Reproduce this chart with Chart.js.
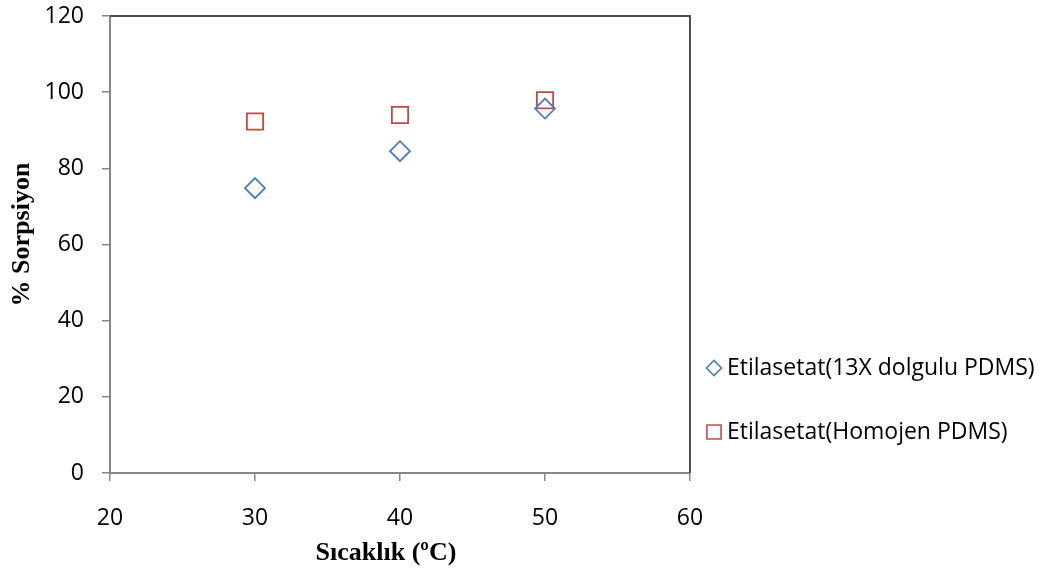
<!DOCTYPE html>
<html>
<head>
<meta charset="utf-8">
<script src="https://cdn.jsdelivr.net/npm/chart.js@4.4.1/dist/chart.umd.min.js"></script>
<style>
  html, body { margin: 0; padding: 0; background: #ffffff; }
  #wrap { width: 1055px; height: 578px; }
</style>
</head>
<body>
<div id="wrap"><canvas id="c" width="1055" height="578"></canvas></div>
<script>
// Sorption (%) against temperature (°C) for two membrane types
const temperatures = [30, 40, 50];
const sorption13X = [74.8, 84.5, 95.7];       // Etilasetat (13X dolgulu PDMS)
const sorptionHomojen = [92.3, 94.0, 97.9];   // Etilasetat (Homojen PDMS)
const seriesNames = ['Etilasetat(13X dolgulu PDMS)', 'Etilasetat(Homojen PDMS)'];
const xTicks = [20, 30, 40, 50, 60];
const yTicks = [0, 20, 40, 60, 80, 100, 120];
const xTitle = 'Sıcaklık (ºC)';
const yTitle = '% Sorpsiyon';

const toPoints = (xs, ys) => xs.map((x, i) => ({ x: x, y: ys[i] }));

const BLUE = '#4a7ebb';
const RED = '#be4b48';
const AXIS = '#868686';
const FRAME = '#4d4d4d';
const tickFont = { family: 'Open Sans', size: 23 };
const titleFont = 'bold 26px "Liberation Serif"';

// Frame on the top and right edges of the plot area
const framePlugin = {
  id: 'frame',
  beforeDatasetsDraw(chart) {
    const { ctx, chartArea: a } = chart;
    ctx.save();
    ctx.strokeStyle = FRAME;
    ctx.lineWidth = 2;
    ctx.beginPath();
    ctx.moveTo(a.left, a.top);
    ctx.lineTo(a.right, a.top);
    ctx.lineTo(a.right, a.bottom);
    ctx.stroke();
    ctx.restore();
  }
};

// Axis titles, set slightly off the plot-area centre
const axisTitles = {
  id: 'axisTitles',
  afterDraw(chart) {
    const { ctx, chartArea: a } = chart;
    ctx.save();
    ctx.fillStyle = '#000000';
    ctx.font = titleFont;
    ctx.textAlign = 'center';
    ctx.textBaseline = 'middle';
    ctx.fillText(xTitle, (a.left + a.right) / 2 - 14, a.bottom + 80);
    ctx.translate(22, (a.top + a.bottom) / 2 - 10);
    ctx.rotate(-Math.PI / 2);
    ctx.fillText(yTitle, 0, 0);
    ctx.restore();
  }
};

// Legend beside the plot, drawn from each dataset's own marker style
const sideLegend = {
  id: 'sideLegend',
  afterDraw(chart) {
    const { ctx, chartArea: a } = chart;
    const rows = [368, 432];
    ctx.save();
    chart.data.datasets.forEach((ds, i) => {
      const mx = a.right + 24;
      const my = rows[i];
      ctx.strokeStyle = ds.borderColor;
      ctx.fillStyle = 'rgba(255,255,255,0)';
      ctx.lineWidth = 1.6;
      Chart.helpers.drawPoint(ctx, {
        pointStyle: ds.pointStyle,
        radius: ds.legendRadius,
        borderWidth: 1.6
      }, mx, my);
      ctx.fillStyle = '#000000';
      ctx.font = '23px "Open Sans"';
      ctx.textBaseline = 'middle';
      ctx.textAlign = 'left';
      ctx.fillText(ds.label, mx + 13, my);
    });
    ctx.restore();
  }
};

new Chart(document.getElementById('c'), {
  type: 'scatter',
  data: {
    datasets: [
      {
        label: seriesNames[0],
        data: toPoints(temperatures, sorption13X),
        pointStyle: 'rectRot',
        pointRadius: 10,
        legendRadius: 7.5,
        borderColor: BLUE,
        backgroundColor: 'rgba(0,0,0,0)',
        pointBorderWidth: 1.8,
        showLine: false
      },
      {
        label: seriesNames[1],
        data: toPoints(temperatures, sorptionHomojen),
        pointStyle: 'rect',
        pointRadius: 11.5,
        legendRadius: 10,
        borderColor: RED,
        backgroundColor: 'rgba(0,0,0,0)',
        pointBorderWidth: 1.8,
        showLine: false
      }
    ]
  },
  options: {
    responsive: false,
    animation: false,
    layout: { padding: { left: 0, right: 365, top: 16, bottom: 0 } },
    plugins: {
      legend: { display: false },
      tooltip: { enabled: false }
    },
    scales: {
      x: {
        type: 'linear',
        min: xTicks[0],
        max: xTicks[xTicks.length - 1],
        afterBuildTicks(scale) { scale.ticks = xTicks.map(v => ({ value: v })); },
        afterFit(scale) {
          scale.height = 105;
          scale.paddingLeft = 0;
          scale.paddingRight = 0;
        },
        grid: { display: true, drawOnChartArea: false, drawTicks: true, tickLength: 8, color: AXIS, lineWidth: 1.5 },
        border: { display: true, color: AXIS, width: 2 },
        ticks: { color: '#000000', font: tickFont, padding: 24, maxRotation: 0 }
      },
      y: {
        type: 'linear',
        min: yTicks[0],
        max: yTicks[yTicks.length - 1],
        afterBuildTicks(scale) { scale.ticks = yTicks.map(v => ({ value: v })); },
        afterFit(scale) {
          scale.width = 110;
          scale.paddingTop = 0;
          scale.paddingBottom = 0;
        },
        grid: { display: true, drawOnChartArea: false, drawTicks: true, tickLength: 8, color: AXIS, lineWidth: 1.5 },
        border: { display: true, color: AXIS, width: 2 },
        ticks: { color: '#000000', font: tickFont, padding: 18 }
      }
    }
  },
  plugins: [framePlugin, axisTitles, sideLegend]
});
</script>
</body>
</html>
